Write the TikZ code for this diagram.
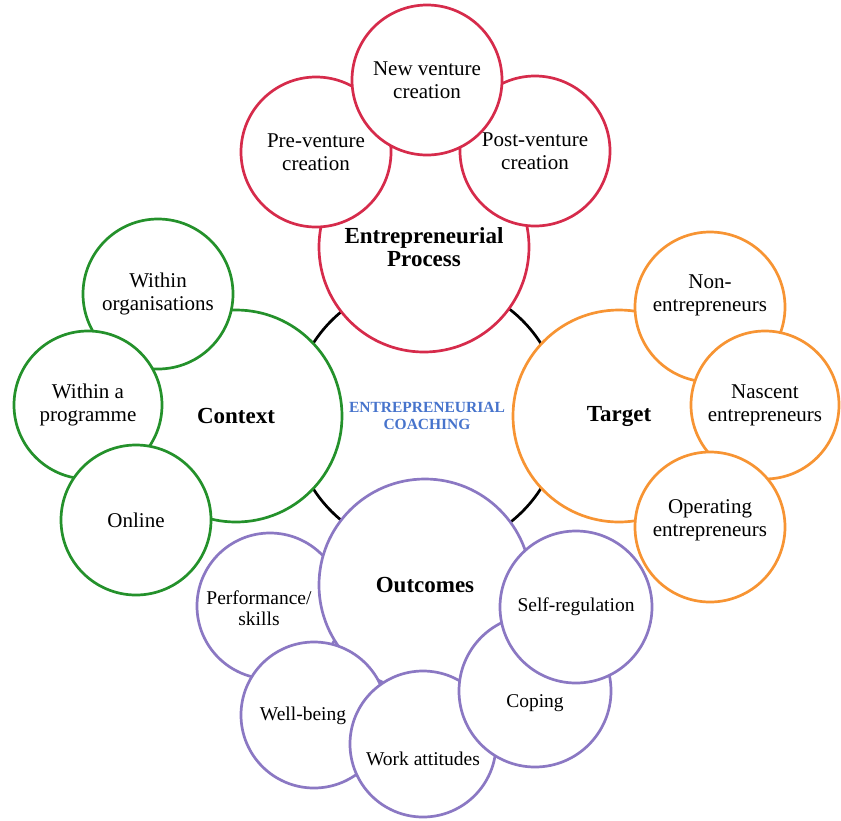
\documentclass[tikz,border=0pt]{standalone}
\usepackage{fontspec}
\setmainfont{Liberation Serif}
\definecolor{procred}{HTML}{D62B4B}
\definecolor{ctxgreen}{HTML}{24912B}
\definecolor{tgtorange}{HTML}{F79433}
\definecolor{outpurple}{HTML}{8B78C3}
\definecolor{coachblue}{HTML}{4774CC}
\begin{document}
\begin{tikzpicture}[x=1pt,y=-1pt,
  bubble/.style={circle, draw, fill=white, line width=2.7pt, inner sep=0pt,
    align=center, font=\fontsize{21}{23}\selectfont},
  hub/.style={bubble, minimum size=212pt, font=\fontsize{23}{23}\selectfont\bfseries},
  leaf/.style={bubble, minimum size=150pt},
  oleaf/.style={leaf, draw=outpurple, font=\fontsize{19.5}{20.5}\selectfont},
  lbl/.style={align=center, inner sep=0pt, font=\fontsize{21}{23}\selectfont},
  olbl/.style={lbl, font=\fontsize{19.5}{20.5}\selectfont}
]
\useasboundingbox (0,0) rectangle (841,820);

% central ring joining the four themes
\node[circle, draw=black, line width=2.7pt, minimum size=270pt, inner sep=0pt,
  align=center, text=coachblue, font=\fontsize{15.5}{16.5}\selectfont\bfseries]
  (core) at (427,416) {ENTREPRENEURIAL\\COACHING};

% entrepreneurial process
\node[hub, draw=procred, minimum size=210pt] (proc) at (424,247) {Entrepreneurial\\Process};
\node[leaf, draw=procred] (pre) at (316,152) {Pre-venture\\creation};
\node[leaf, draw=procred] (post) at (535,151) {Post-venture\\creation};
\node[leaf, draw=procred] (new) at (427,80) {New venture\\creation};

% context
\node[hub, draw=ctxgreen] (ctx) at (236,416) {Context};
\node[leaf, draw=ctxgreen] (org) at (158,294) {Within\\organisations};
\node[leaf, draw=ctxgreen, minimum size=148pt] (prog) at (88,405) {Within a\\programme};
\node[leaf, draw=ctxgreen] (online) at (136,520) {Online};

% target
\node[hub, draw=tgtorange] (tgt) at (619,416) {Target};
\node[leaf, draw=tgtorange] (non) at (710,307) {};
\node[leaf, draw=tgtorange, minimum size=148pt] (nasc) at (765,405) {Nascent\\entrepreneurs};
\node[leaf, draw=tgtorange] (oper) at (710,527) {};

% outcomes
\node[oleaf, minimum size=146pt] (perf) at (270,606) {};
\node[hub, draw=outpurple] (outc) at (425,585) {Outcomes};
\node[oleaf, minimum size=146pt] (well) at (314,715) {};
\node[oleaf, minimum size=146pt] (work) at (423,744) {};
\node[oleaf, minimum size=152pt] (coping) at (535,691) {};
\node[oleaf, minimum size=152pt] (selfreg) at (576,607) {Self-regulation};

% labels set off-centre in their bubbles
\node[lbl] (non-t) at (710,295) {Non-\\entrepreneurs};
\node[lbl] (oper-t) at (710,520) {Operating\\entrepreneurs};
\node[olbl] (perf-t) at (259,608) {Performance/\\skills};
\node[olbl] (well-t) at (303,716) {Well-being};
\node[olbl] (work-t) at (423,759) {Work attitudes};
\node[olbl] (coping-t) at (535,703) {Coping};
\end{tikzpicture}
\end{document}
